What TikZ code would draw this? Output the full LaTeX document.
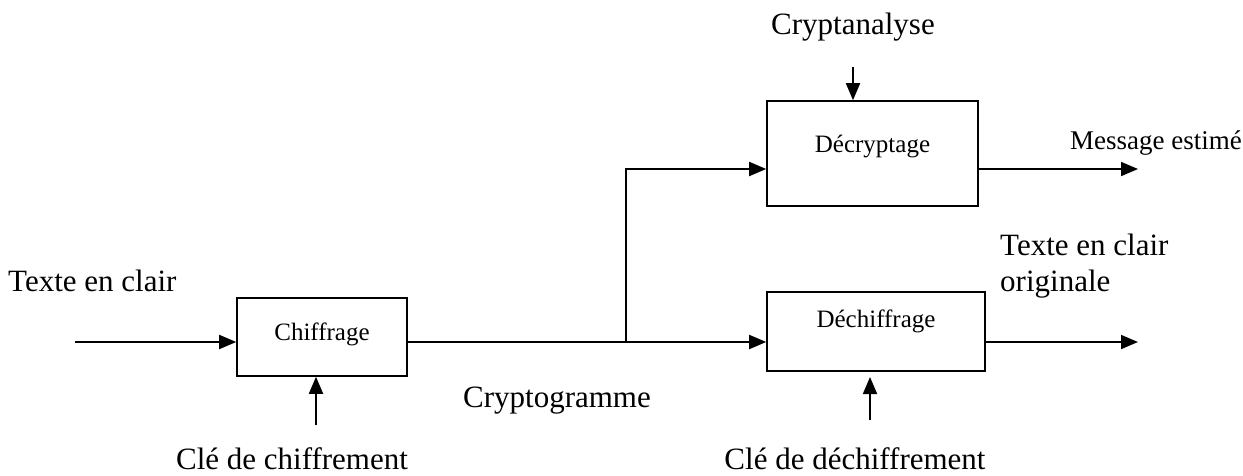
\documentclass[tikz,border=0pt]{standalone}
\usepackage{fontspec}
\setmainfont{Liberation Serif}
\usetikzlibrary{arrows.meta}
\begin{document}
\begin{tikzpicture}[x=1pt,y=-1pt,
  blk/.style={draw,line width=1.6pt,inner sep=0pt},
  blktxt/.style={inner sep=0pt,font=\fontsize{25}{30}\selectfont},
  lbl/.style={inner sep=0pt,font=\fontsize{31}{36}\selectfont},
  lblsm/.style={inner sep=0pt,font=\fontsize{27}{32}\selectfont},
  conn/.style={line width=1.8pt,-{Triangle[length=17pt,width=14pt]}},
  plain/.style={line width=1.8pt}]
\useasboundingbox (0,0) rectangle (1243,475);
% boxes
\node[blk,minimum width=170pt,minimum height=78pt] (chif) at (322,337) {};
\node[blktxt] (chift) at (322,334) {Chiffrage};
\node[blk,minimum width=211pt,minimum height=105pt] (decr) at (872.5,153.5) {};
\node[blktxt] (decrt) at (872.5,146) {Décryptage};
\node[blk,minimum width=218pt,minimum height=79pt] (dech) at (876,331.5) {};
\node[blktxt] (decht) at (876,321) {Déchiffrage};
% labels
\node[lbl,anchor=west] (tc) at (8,281) {Texte en clair};
\node[lbl] (kc) at (292,459) {Clé de chiffrement};
\node[lbl] (cg) at (557,401) {Cryptogramme};
\node[lbl] (ca) at (853,27) {Cryptanalyse};
\node[lblsm,anchor=west] (me) at (1070,143) {Message estimé};
\node[lbl,anchor=west,align=left] (tco) at (1000,266) {Texte en clair\\originale};
\node[lbl] (kd) at (855,459) {Clé de déchiffrement};
% coordinates
\coordinate (in) at (75,342);
\coordinate (br) at (626,342);
\coordinate (brt) at (626,169);
\coordinate (kcs) at (316,425);
\coordinate (cas) at (853,67);
\coordinate (meo) at (1138,169);
\coordinate (tcoo) at (1138,342);
\coordinate (kds) at (870,420);
\coordinate (kde) at (870,377);
% connectors
\draw[conn] (in) -- (in -| chif.west);
\draw[conn] (br -| chif.east) -- (br -| dech.west);
\draw[conn] (br) -- (brt) -- (brt -| decr.west);
\draw[conn] (kcs) -- (kcs |- chif.south);
\draw[conn] (cas) -- (cas |- decr.north);
\draw[conn] (meo -| decr.east) -- (meo);
\draw[conn] (tcoo -| dech.east) -- (tcoo);
\draw[conn] (kds) -- (kde);
\end{tikzpicture}
\end{document}
